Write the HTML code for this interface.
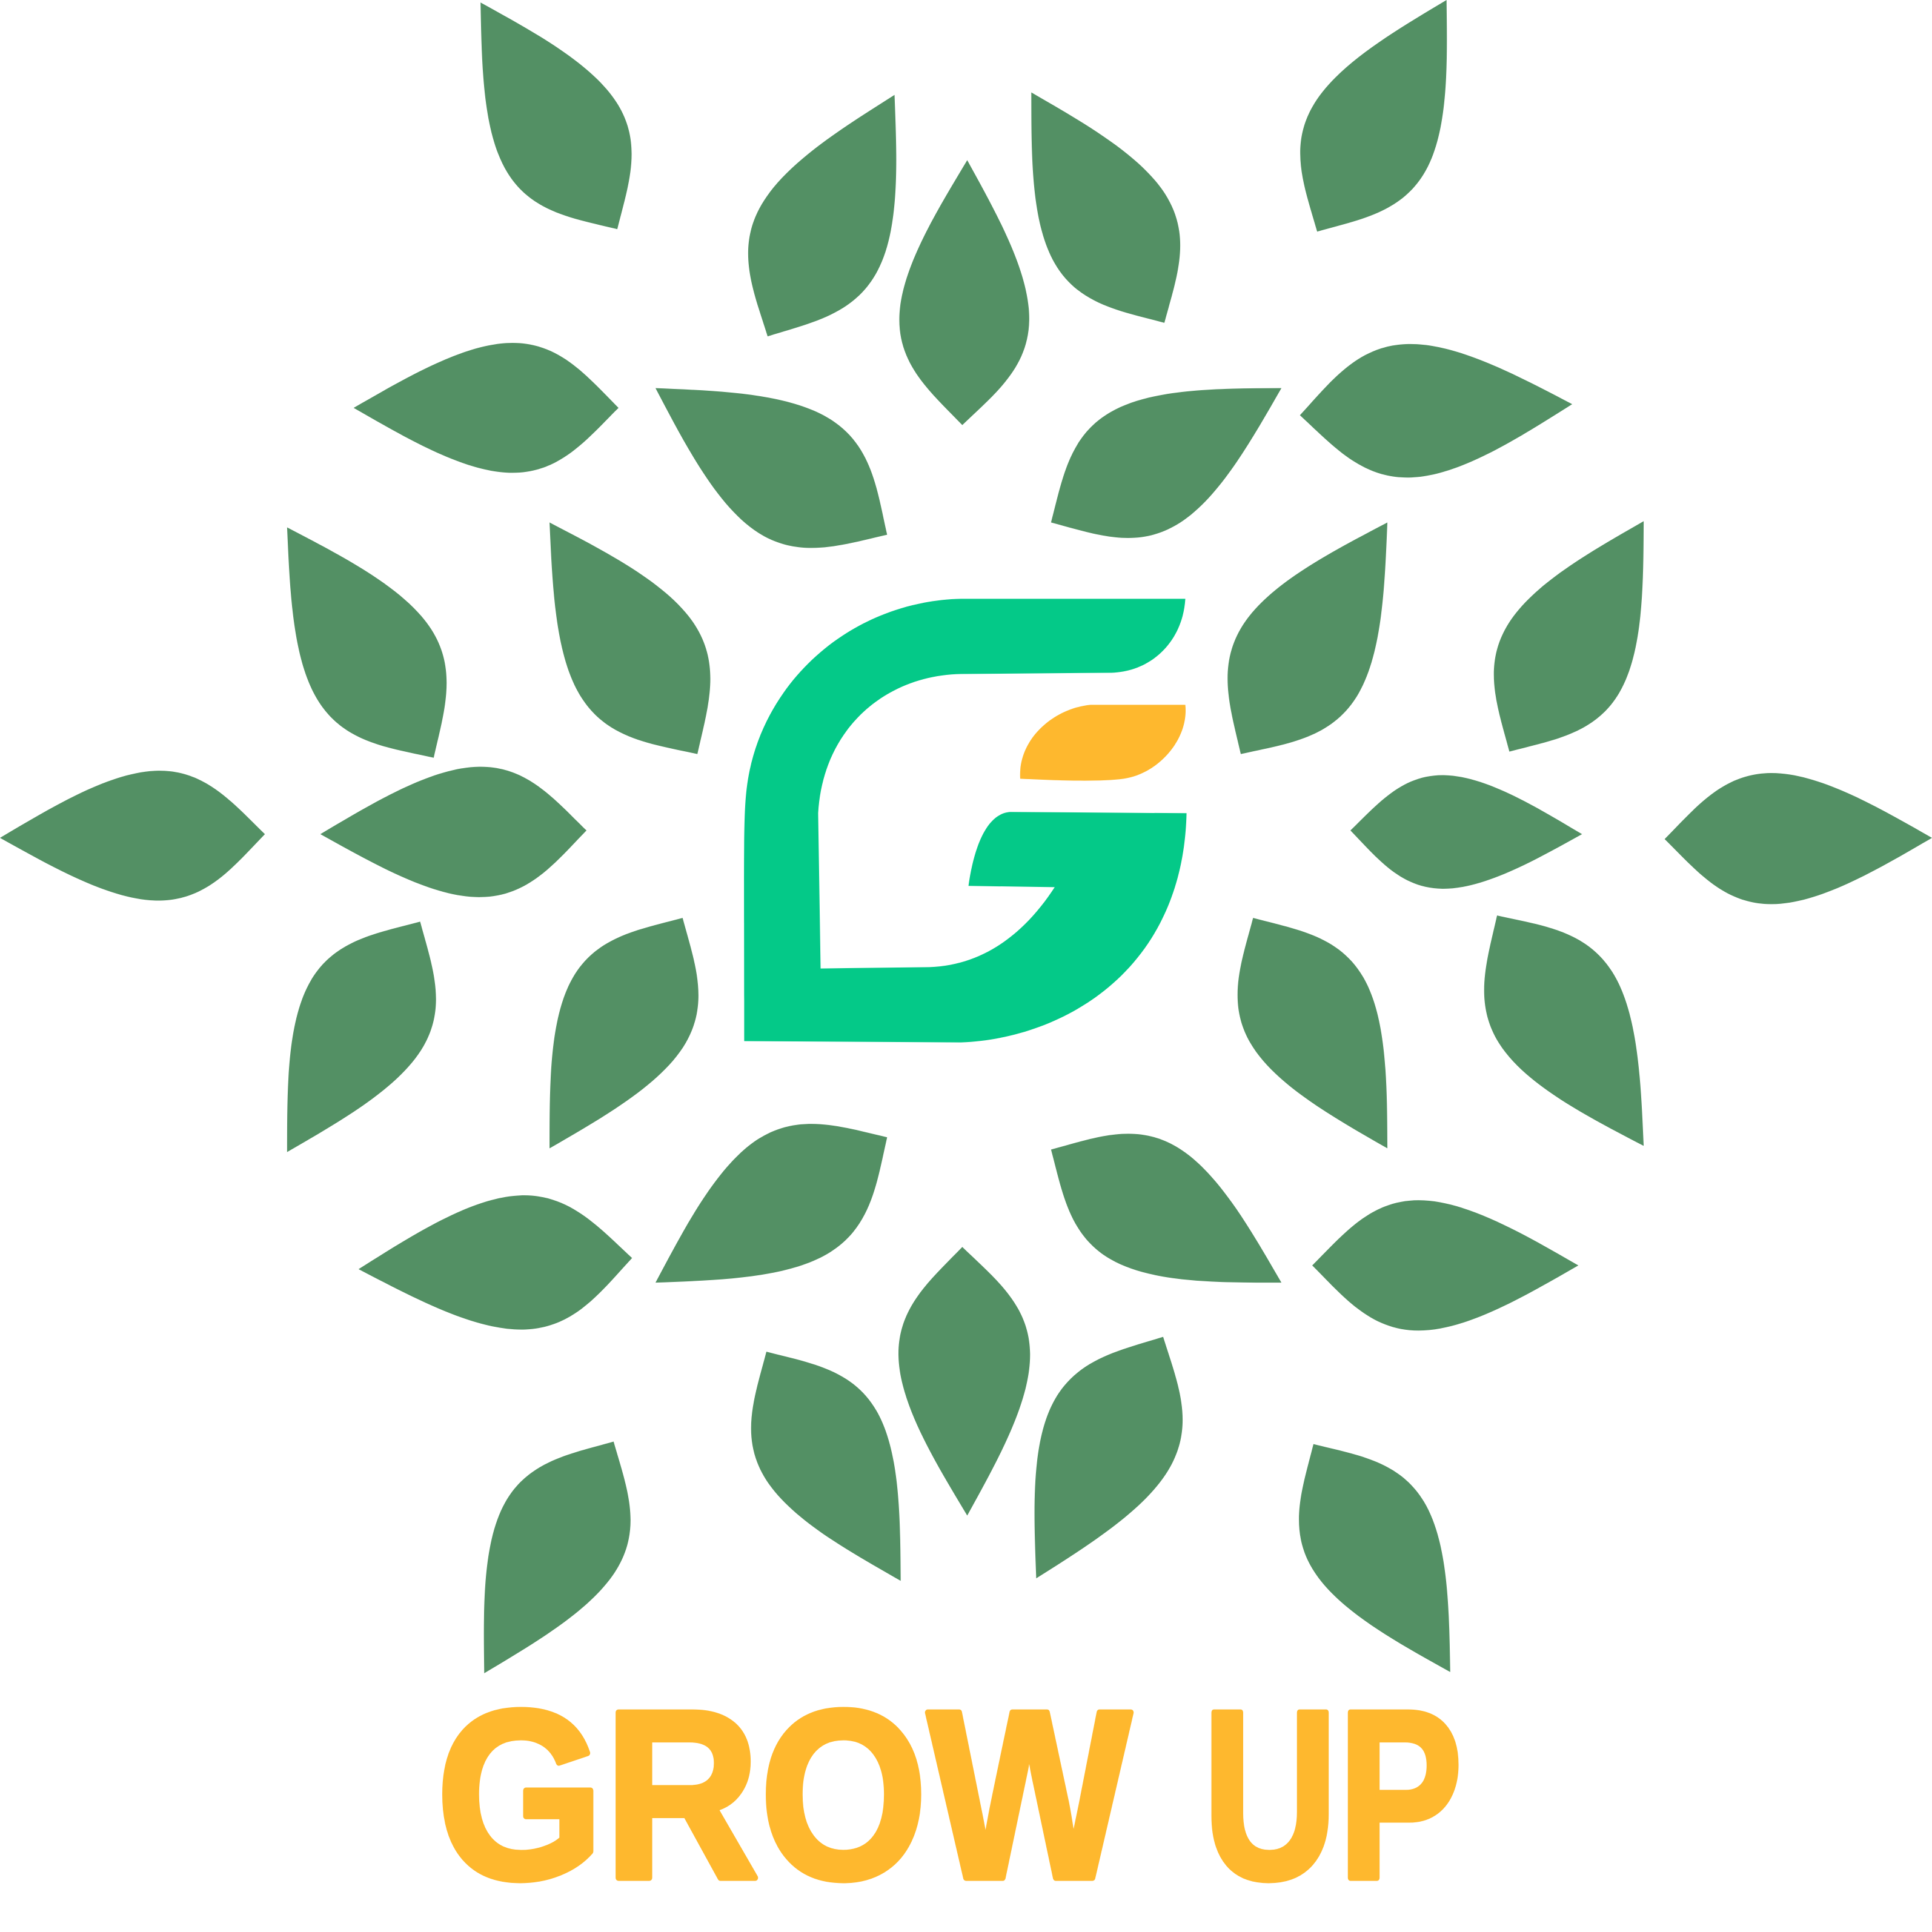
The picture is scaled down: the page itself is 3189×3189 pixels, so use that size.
<!DOCTYPE html>
<html><head><meta charset="utf-8"><style>
html,body{margin:0;padding:0;background:#fff;}
svg{display:block;}
</style></head>
<body>
<svg id="logo" width="3189" height="3189" viewBox="0 0 1568 1568" xmlns="http://www.w3.org/2000/svg">
<g id="leaves"></g>
<path fill="#04C988" d="M962,486 L780,486 C690,488 616,555 606,640 C603,665 604,700 604,845 L780,846 C860,843 960,790 963,660 L820,659 C800,660 790,690 786,719 L856,720 C830,760 795,785 750,785 L666,786 L664,660 C668,590 720,548 780,547 L902,546 C935,545 960,520 962,486 Z"/>
<path fill="#FEB82E" d="M828,632 C826,600 855,575 885,572 L962,572 C965,600 940,628 912,632 C890,635 850,633 828,632 Z"/>
<text x="354" y="1524" style="font-family:'Liberation Sans',sans-serif;font-weight:bold;font-size:195px;" fill="#FEB82E" stroke="#FEB82E" stroke-width="5" stroke-linejoin="round" textLength="564" lengthAdjust="spacingAndGlyphs">GROW</text>
<text x="976" y="1524" style="font-family:'Liberation Sans',sans-serif;font-weight:bold;font-size:195px;" fill="#FEB82E" stroke="#FEB82E" stroke-width="5" stroke-linejoin="round" textLength="211" lengthAdjust="spacingAndGlyphs">UP</text>
</svg>
<script>
const leafTips = [[390,2],[726,77],[785,130],[837,75],[1174,0],[287,331],[532,315],[1040,315],[1276,328],[233,428],[446,424],[1126,424],[1334,423],[0,680],[260,677],[1284,677],[1568,680],[233,935],[446,932],[1126,932],[1334,930],[291,1030],[532,1041],[1040,1041],[1281,1027],[785,1230],[731,1283],[841,1281],[393,1358],[1177,1357]];
const leafBases = [[501,186],[623,273],[781,345],[945,262],[1069,188],[502,331],[720,434],[853,424],[1055,337],[352,615],[566,612],[1007,612],[1225,610],[215,677],[476,674],[1096,674],[1351,681],[341,748],[554,745],[1017,745],[1215,743],[513,1021],[720,923],[853,933],[1065,1027],[781,1012],[622,1097],[944,1085],[498,1170],[1066,1172]];
const g = document.getElementById('leaves');
for (let i = 0; i < leafTips.length; i++) {
  const [tx,ty] = leafTips[i], [bx,by] = leafBases[i];
  const dx = bx-tx, dy = by-ty, L = Math.hypot(dx,dy);
  const nx = -dy/L, ny = dx/L;
  const p = (a,b)=> (tx+dx*a+nx*b*L).toFixed(1)+','+(ty+dy*a+ny*b*L).toFixed(1);
  const d = 'M'+tx+','+ty+
    ' C'+p(0.2,0.115)+' '+p(0.42,0.245)+' '+p(0.6,0.245)+
    ' C'+p(0.78,0.245)+' '+p(0.88,0.12)+' '+bx+','+by+
    ' C'+p(0.88,-0.12)+' '+p(0.78,-0.245)+' '+p(0.6,-0.245)+
    ' C'+p(0.42,-0.245)+' '+p(0.2,-0.115)+' '+tx+','+ty+'Z';
  const el = document.createElementNS('http://www.w3.org/2000/svg','path');
  el.setAttribute('d', d);
  el.setAttribute('fill', '#539064');
  
  
  g.appendChild(el);
}
</script>
</body></html>
